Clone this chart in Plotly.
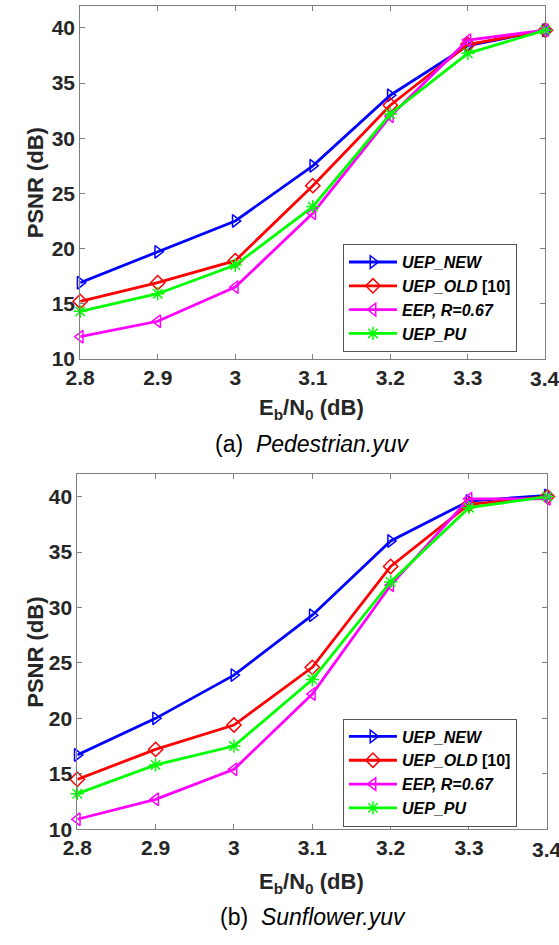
import plotly.graph_objects as go

x_vals = [2.8, 2.9, 3.0, 3.1, 3.2, 3.3, 3.4]

# (a) Pedestrian.yuv
ped_uep_new = [16.9, 19.7, 22.5, 27.5, 33.9, 38.4, 39.8]
ped_uep_old = [15.2, 16.9, 18.9, 25.7, 33.0, 38.5, 39.8]
ped_eep = [12.0, 13.4, 16.5, 23.2, 32.0, 38.9, 39.8]
ped_uep_pu = [14.3, 15.9, 18.5, 23.8, 32.2, 37.7, 39.8]

# (b) Sunflower.yuv
sun_uep_new = [16.7, 20.0, 23.9, 29.3, 36.0, 39.6, 40.1]
sun_uep_old = [14.5, 17.2, 19.4, 24.6, 33.7, 39.3, 40.0]
sun_eep = [10.9, 12.7, 15.4, 22.2, 32.0, 39.8, 39.8]
sun_uep_pu = [13.2, 15.8, 17.5, 23.5, 32.3, 39.0, 40.0]

legend_text = ["<b><i>UEP_NEW</i></b>", "<b><i>UEP_OLD</i> [10]</b>",
               "<b><i>EEP, R=0.67</i></b>", "<b><i>UEP_PU</i></b>"]
colors = ["#0000FF", "#FF0000", "#FF00FF", "#00FF00"]
symbols = ["triangle-right-open", "diamond-open", "triangle-left-open", "asterisk-open"]

x_ticks = [2.8, 2.9, 3.0, 3.1, 3.2, 3.3, 3.4]
x_ticktext = ["2.8", "2.9", "3", "3.1", "3.2", "3.3", "3.4"]
y_ticks = [10, 15, 20, 25, 30, 35, 40]

fig = go.Figure()

panels = [
    ([ped_uep_new, ped_uep_old, ped_eep, ped_uep_pu], "x", "y", "legend"),
    ([sun_uep_new, sun_uep_old, sun_eep, sun_uep_pu], "x2", "y2", "legend2"),
]
for series, xa, ya, lg in panels:
    for i, ys in enumerate(series):
        fig.add_trace(go.Scatter(
            x=x_vals, y=ys, mode="lines+markers", name=legend_text[i],
            xaxis=xa, yaxis=ya, legend=lg, cliponaxis=False,
            line=dict(color=colors[i], width=2.8),
            marker=dict(symbol=symbols[i], size=11, color=colors[i],
                        line=dict(color=colors[i], width=1.5)),
        ))

W, H = 559, 945
top_dom_x = [67 / W, 545 / W]
top_dom_y = [1 - 363 / H, 1 - 6 / H]
bot_dom_x = [64 / W, 547 / W]
bot_dom_y = [1 - 839 / H, 1 - 480 / H]

FONT = "Arial, Liberation Sans, sans-serif"
TICK_FONT = dict(family=FONT, size=21, color="#262626")
# last x tick label drawn as annotation (it overhangs the page edge, as in the original)
x_tt = [f"<b>{t}</b>" for t in x_ticktext[:-1]] + [""]
axis_common = dict(
    showline=True, linecolor="#7f7f7f", linewidth=1, mirror="ticks",
    ticks="inside", ticklen=5, tickcolor="#7f7f7f", showgrid=False, zeroline=False,
    tickfont=TICK_FONT,
)

fig.update_layout(
    width=W, height=H, margin=dict(l=0, r=0, t=0, b=0),
    paper_bgcolor="white", plot_bgcolor="white",
    xaxis=dict(domain=top_dom_x, anchor="y", range=[2.8, 3.4], tickvals=x_ticks,
               ticktext=x_tt, **axis_common),
    yaxis=dict(domain=top_dom_y, anchor="x", range=[10, 42], tickvals=y_ticks,
               ticktext=[f"<b>{t}</b>" for t in y_ticks], **axis_common),
    xaxis2=dict(domain=bot_dom_x, anchor="y2", range=[2.8, 3.4], tickvals=x_ticks,
                ticktext=x_tt, **axis_common),
    yaxis2=dict(domain=bot_dom_y, anchor="x2", range=[10, 42], tickvals=y_ticks,
                ticktext=[f"<b>{t}</b>" for t in y_ticks], **axis_common),
    legend=dict(x=337 / W, y=1 - 247 / H, xanchor="left", yanchor="top",
                bordercolor="#555555", borderwidth=1, bgcolor="white",
                font=dict(family=FONT, size=16, color="black"),
                itemwidth=48, tracegroupgap=0),
    legend2=dict(x=337 / W, y=1 - 727 / H, xanchor="left", yanchor="top",
                 bordercolor="#555555", borderwidth=1, bgcolor="white",
                 font=dict(family=FONT, size=16, color="black"),
                 itemwidth=48, tracegroupgap=0),
    showlegend=True,
)

for xa, ya_paper in [("x", 1 - 383 / H), ("x2", 1 - 860 / H)]:
    fig.add_annotation(xref=xa, x=x_ticks[-1], yref="paper", y=ya_paper,
                       text=f"<b>{x_ticktext[-1]}</b>", showarrow=False,
                       xanchor="center", yanchor="middle", font=TICK_FONT)

title_font = dict(family=FONT, size=22, color="#262626")
annots = [
    dict(x=21 / W, y=1 - 185 / H, text="<b>PSNR (dB)</b>", textangle=-90),
    dict(x=21 / W, y=1 - 660 / H, text="<b>PSNR (dB)</b>", textangle=-90),
    dict(x=305 / W, y=1 - 414 / H, text="<b>E<sub>b</sub>/N<sub>0</sub> (dB)</b>"),
    dict(x=305 / W, y=1 - 893 / H, text="<b>E<sub>b</sub>/N<sub>0</sub> (dB)</b>"),
]
for a in annots:
    fig.add_annotation(xref="paper", yref="paper", showarrow=False,
                       xanchor="center", yanchor="middle", font=title_font, **a)

cap_font = dict(family=FONT, size=23, color="black")
fig.add_annotation(xref="paper", yref="paper", x=306 / W, y=1 - 449 / H, showarrow=False,
                   text="(a)  <i>Pedestrian.yuv</i>", font=cap_font,
                   xanchor="center", yanchor="middle")
fig.add_annotation(xref="paper", yref="paper", x=306 / W, y=1 - 928 / H, showarrow=False,
                   text="(b)  <i>Sunflower.yuv</i>", font=cap_font,
                   xanchor="center", yanchor="middle")

fig.write_html("out.html")
